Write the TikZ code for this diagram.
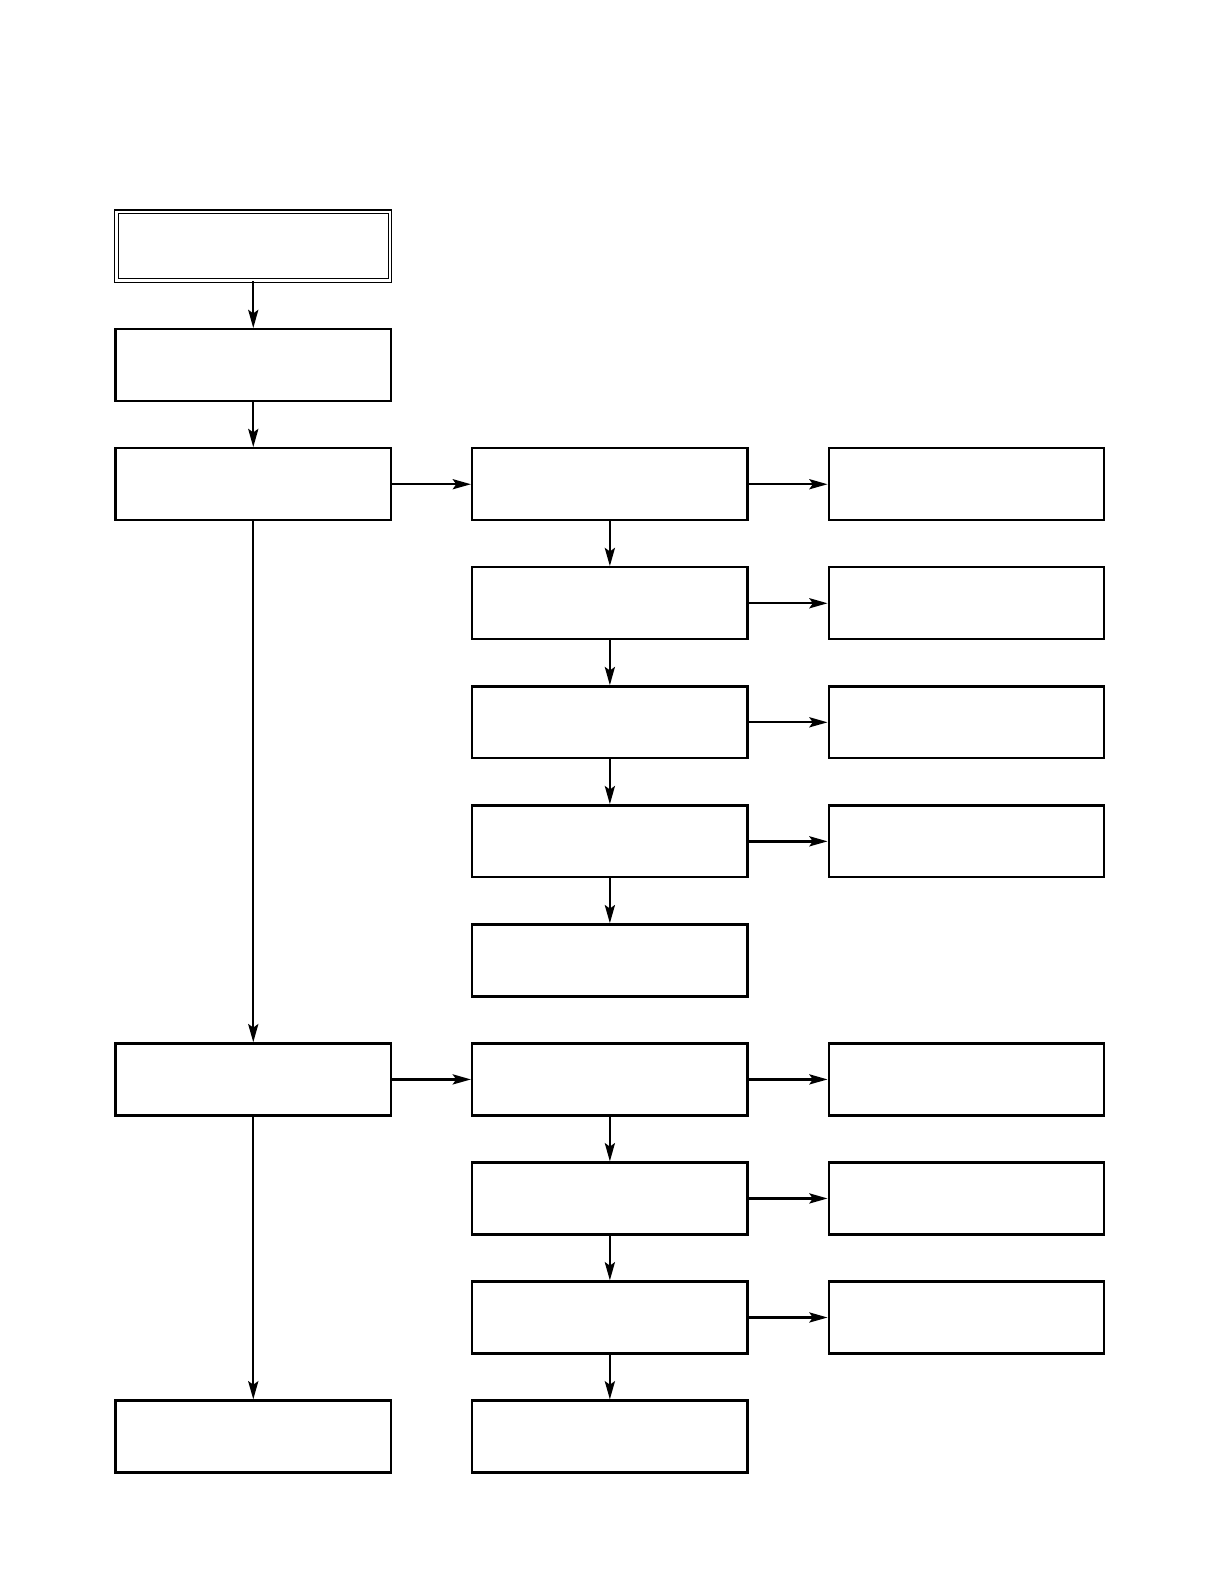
\documentclass[tikz,border=0pt]{standalone}
\usepackage{tikz}
\usetikzlibrary{arrows.meta}

\begin{document}
\begin{tikzpicture}[
    box/.style={draw, line width=1.3pt, minimum width=5.44cm, minimum height=1.42cm, inner sep=0pt},
    topbox/.style={draw, double, line width=0.7pt, double distance=1.3pt, minimum width=5.4cm, minimum height=1.36cm, inner sep=0pt},
    >={Stealth[length=3.6mm,width=2mm,inset=0.7mm]}]
    \useasboundingbox (0,0.41) rectangle (24.11,31.78);
    %\draw[very thin,color=gray] (0,0) grid (24,31);
    % left column
    \node [topbox] (start) at (5.00,26.92) {};
    \node [box] (a2) at (5.00,24.57) {};
    \node [box] (a3) at (5.00,22.22) {};
    \node [box] (a8) at (5.00,10.47) {};
    \node [box] (a11) at (5.00,3.42) {};
    % middle column
    \node [box] (b3) at (12.04,22.22) {};
    \node [box] (b4) at (12.04,19.87) {};
    \node [box] (b5) at (12.04,17.52) {};
    \node [box] (b6) at (12.04,15.17) {};
    \node [box] (b7) at (12.04,12.82) {};
    \node [box] (b8) at (12.04,10.47) {};
    \node [box] (b9) at (12.04,8.12) {};
    \node [box] (b10) at (12.04,5.77) {};
    \node [box] (b11) at (12.04,3.42) {};
    % right column
    \node [box] (c3) at (19.08,22.22) {};
    \node [box] (c4) at (19.08,19.87) {};
    \node [box] (c5) at (19.08,17.52) {};
    \node [box] (c6) at (19.08,15.17) {};
    \node [box] (c8) at (19.08,10.47) {};
    \node [box] (c9) at (19.08,8.12) {};
    \node [box] (c10) at (19.08,5.77) {};

    \draw [black, line width=1.3pt] [->] (start) -- (a2);
    \draw [black, line width=1.3pt] [->] (a2) -- (a3);
    \draw [black, line width=1.3pt] [->] (a3) -- (a8);
    \draw [black, line width=1.3pt] [->] (a8) -- (a11);
    \draw [black, line width=1.3pt] [->] (a3) -- (b3);
    \draw [black, line width=1.3pt] [->] (b3) -- (c3);
    \draw [black, line width=1.3pt] [->] (b3) -- (b4);
    \draw [black, line width=1.3pt] [->] (b4) -- (b5);
    \draw [black, line width=1.3pt] [->] (b5) -- (b6);
    \draw [black, line width=1.3pt] [->] (b6) -- (b7);
    \draw [black, line width=1.3pt] [->] (b4) -- (c4);
    \draw [black, line width=1.3pt] [->] (b5) -- (c5);
    \draw [black, line width=1.3pt] [->] (b6) -- (c6);
    \draw [black, line width=1.3pt] [->] (a8) -- (b8);
    \draw [black, line width=1.3pt] [->] (b8) -- (c8);
    \draw [black, line width=1.3pt] [->] (b8) -- (b9);
    \draw [black, line width=1.3pt] [->] (b9) -- (b10);
    \draw [black, line width=1.3pt] [->] (b10) -- (b11);
    \draw [black, line width=1.3pt] [->] (b9) -- (c9);
    \draw [black, line width=1.3pt] [->] (b10) -- (c10);

\end{tikzpicture}
\end{document}
